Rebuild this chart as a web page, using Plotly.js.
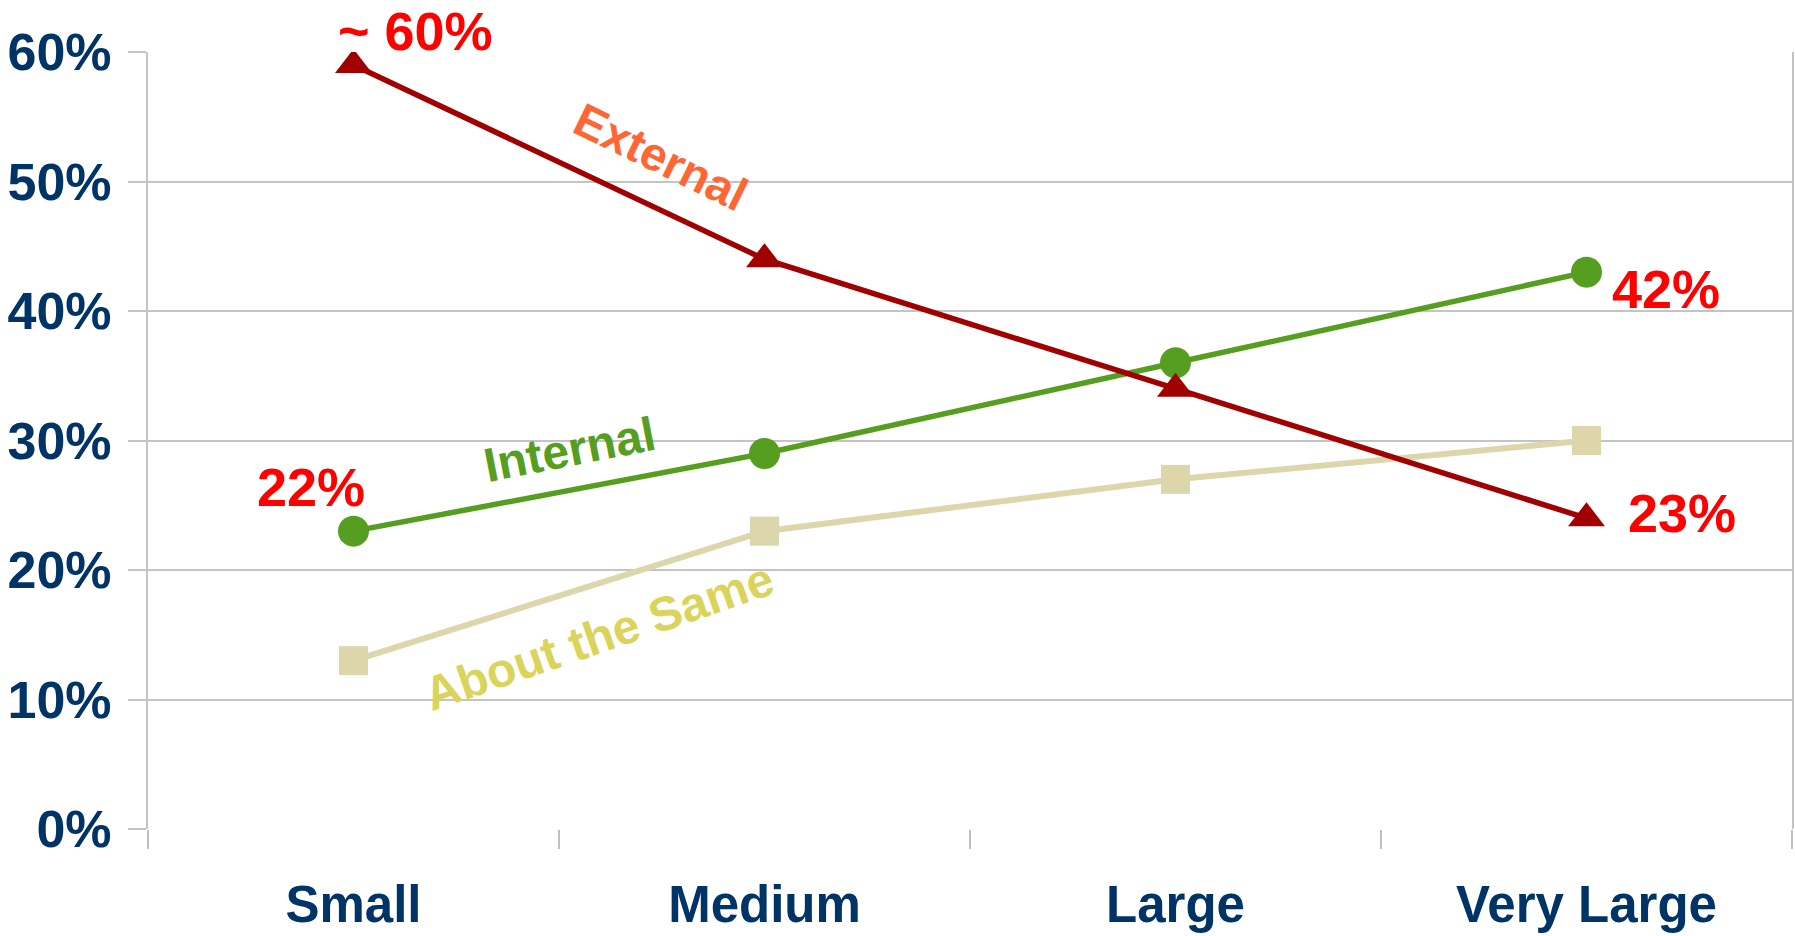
<!DOCTYPE html>
<html>
<head>
<meta charset="utf-8">
<script src="https://cdn.plot.ly/plotly-3.0.1.min.js"></script>
<style>
html,body{margin:0;padding:0;background:#fff;}
#chart{width:1795px;height:936px;}
</style>
</head>
<body>
<div id="chart"></div>
<script>
const categories = ["Small", "Medium", "Large", "Very Large"];
const externalVals = [59, 44, 34, 24];
const internalVals = [23, 29, 36, 43];
const sameVals = [13, 23, 27, 30];
const yTickVals = [0, 10, 20, 30, 40, 50, 60];
const yTickText = ["0%", "10%", "20%", "30%", "40%", "50%", "60%"];

const FONT = "Liberation Sans, Arial, sans-serif";
const xIdx = categories.map((c, i) => i);

const traces = [
  {
    x: xIdx, y: sameVals, type: "scatter", mode: "lines+markers", name: "About the Same",
    line: {color: "#ddd6ab", width: 6},
    marker: {symbol: "square", size: 29, color: "#ddd6ab"}
  },
  {
    x: xIdx, y: internalVals, type: "scatter", mode: "lines+markers", name: "Internal",
    line: {color: "#559e20", width: 5.5},
    marker: {symbol: "circle", size: 31, color: "#559e20"}
  },
  {
    x: xIdx, y: externalVals, type: "scatter", mode: "lines+markers", name: "External",
    line: {color: "#a00000", width: 5.5},
    marker: {symbol: "triangle-up", size: 32, color: "#a00000"}
  }
];

function ann(x, y, text, color, size, angle, yref) {
  return {x: x, y: y, xref: "x", yref: yref || "y", text: text, showarrow: false,
    textangle: angle || 0, xanchor: "center", yanchor: "middle",
    font: {family: FONT, size: size, color: color, weight: "bold"}};
}

const layout = {
  width: 1795, height: 936,
  margin: {l: 148, r: 3, t: 52, b: 107},
  paper_bgcolor: "#ffffff", plot_bgcolor: "#ffffff",
  showlegend: false,
  xaxis: {
    type: "linear",
    range: [-0.5, 3.5],
    tickvals: xIdx, ticktext: categories,
    showgrid: false, zeroline: false,
    ticks: "", showline: false,
    tickfont: {family: FONT, size: 51, color: "#003366", weight: "bold"},
    ticklabelstandoff: 41
  },
  xaxis2: {
    overlaying: "x", range: [-0.5, 3.5], tickvals: [-0.5, 0.5, 1.5, 2.5, 3.5],
    showticklabels: false, ticks: "outside", ticklen: 19, tickwidth: 2, tickcolor: "#c0c0c0",
    showgrid: false, zeroline: false, showline: false, anchor: "y"
  },
  yaxis: {
    range: [0, 60],
    tickvals: yTickVals, ticktext: yTickText,
    showgrid: true, gridcolor: "#c4c4c4", gridwidth: 2,
    zeroline: false,
    showline: true, linecolor: "#c4c4c4", linewidth: 2, mirror: true,
    ticks: "outside", ticklen: 18, tickwidth: 2, tickcolor: "#c4c4c4",
    tickfont: {family: FONT, size: 52, color: "#003366", weight: "bold"},
    ticklabelstandoff: 6
  },
  annotations: [
    ann(0.150, 1.027, "~ 60%", "#ff0000", 54, 0, "paper"),
    ann(-0.103, 26.4, "22%", "#ff0000", 54),
    ann(3.194, 41.7, "42%", "#ff0000", 54),
    ann(3.233, 24.4, "23%", "#ff0000", 54),
    ann(0.746, 51.9, "External", "#ff6633", 47, 26),
    ann(0.525, 29.3, "Internal", "#559e20", 48, -11),
    ann(0.596, 14.9, "About the Same", "#dad45a", 48, -19)
  ]
};

// helper trace on xaxis2 so the category-boundary ticks render
traces.unshift({x: [-0.5], y: [0], xaxis: "x2", yaxis: "y", type: "scatter", mode: "markers",
  marker: {size: 0.1, color: "rgba(0,0,0,0)"}, hoverinfo: "skip", showlegend: false});

Plotly.newPlot("chart", traces, layout, {displayModeBar: false, staticPlot: true});
</script>
</body>
</html>
